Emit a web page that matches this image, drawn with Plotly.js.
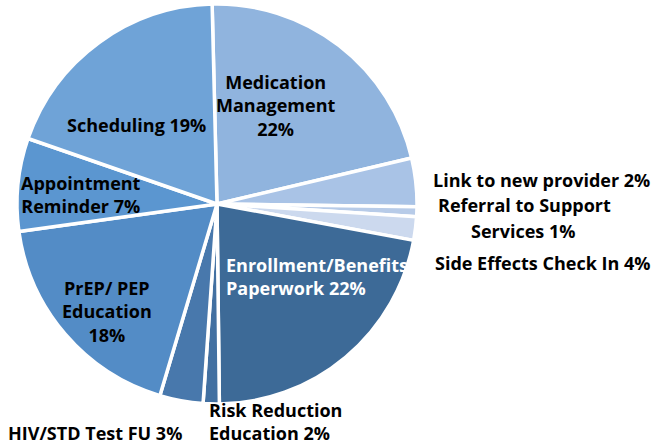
<!DOCTYPE html>
<html>
<head>
<meta charset="utf-8">
<script src="https://cdn.plot.ly/plotly-3.0.1.min.js"></script>
<style>html,body{margin:0;padding:0;background:#fff;}#chart{width:652px;height:447px;}</style>
</head>
<body>
<div id="chart"></div>
<script>
// Slices in clockwise order from 12 o'clock (sizes read from the drawn wedges)
var categories = ["Medication Management", "Link to new provider", "Referral to Support Services", "Side Effects Check In",
  "Enrollment/Benefits Paperwork", "Risk Reduction Education", "HIV/STD Test FU", "PrEP/ PEP Education",
  "Appointment Reminder", "Scheduling"];
var values = [21.7, 3.9, 0.8, 1.9, 21.9, 1.3, 3.5, 18.2, 7.5, 19.3];
// Percentages printed on the chart labels
var printedPct = ["22%", "2%", "1%", "4%", "22%", "2%", "3%", "18%", "7%", "19%"];
var colors = ["#90B4DE", "#A9C3E6", "#B7CBE8", "#CCD9EE", "#3D6A97", "#4270A1", "#4878AC", "#538CC6", "#5B96D0", "#6FA3D7"];

var W = 652, H = 447;
function px(x) { return x / W; }
function py(y) { return 1 - y / H; }

var trace = {
  type: "pie",
  labels: categories,
  values: values,
  sort: false,
  direction: "clockwise",
  rotation: -1.4,
  textinfo: "none",
  hoverinfo: "label+percent",
  marker: { colors: colors, line: { color: "#ffffff", width: 3.5 } },
  domain: { x: [px(17), px(417)], y: [py(404), py(4)] },
  showlegend: false
};

var FAM = "'Open Sans', 'DejaVu Sans', sans-serif";
var f = { family: FAM, size: 18, color: "#000000" };
var fw = { family: FAM, size: 18, color: "#ffffff" };
function ann(text, x, y, xanchor, font, align, yanchor) {
  return { text: "<b>" + text + "</b>", x: px(x), y: py(y), xref: "paper", yref: "paper",
    xanchor: xanchor, yanchor: yanchor || "middle", showarrow: false, font: font,
    align: align || "center", borderpad: 0 };
}
var annotations = [
  ann("Medication<br>Management<br>" + printedPct[0], 275, 105, "center", f),
  ann(categories[1] + " " + printedPct[1], 651, 180, "right", f, "left"),
  ann("Referral to Support", 437, 205, "left", f, "left"),
  ann("Services " + printedPct[2], 470, 231, "left", f, "left"),
  ann(categories[3] + " " + printedPct[3], 651, 263, "right", f, "left"),
  ann("Enrollment/Benefits<br>Paperwork " + printedPct[4], 225, 276, "left", fw, "left"),
  ann("Risk Reduction<br>Education " + printedPct[5], 208, 446, "left", f, "left", "bottom"),
  ann(categories[6] + " " + printedPct[6], 7, 446, "left", f, "left", "bottom"),
  ann("PrEP/ PEP<br>Education<br>" + printedPct[7], 107, 311, "center", f),
  ann("Appointment<br>Reminder " + printedPct[8], 81, 195, "center", f),
  ann(categories[9] + " " + printedPct[9], 136, 125, "center", f)
];

var layout = {
  width: W, height: H,
  margin: { l: 0, r: 0, t: 0, b: 0 },
  paper_bgcolor: "#ffffff",
  annotations: annotations
};
Plotly.newPlot("chart", [trace], layout, { displayModeBar: false, staticPlot: true });
</script>
</body>
</html>
